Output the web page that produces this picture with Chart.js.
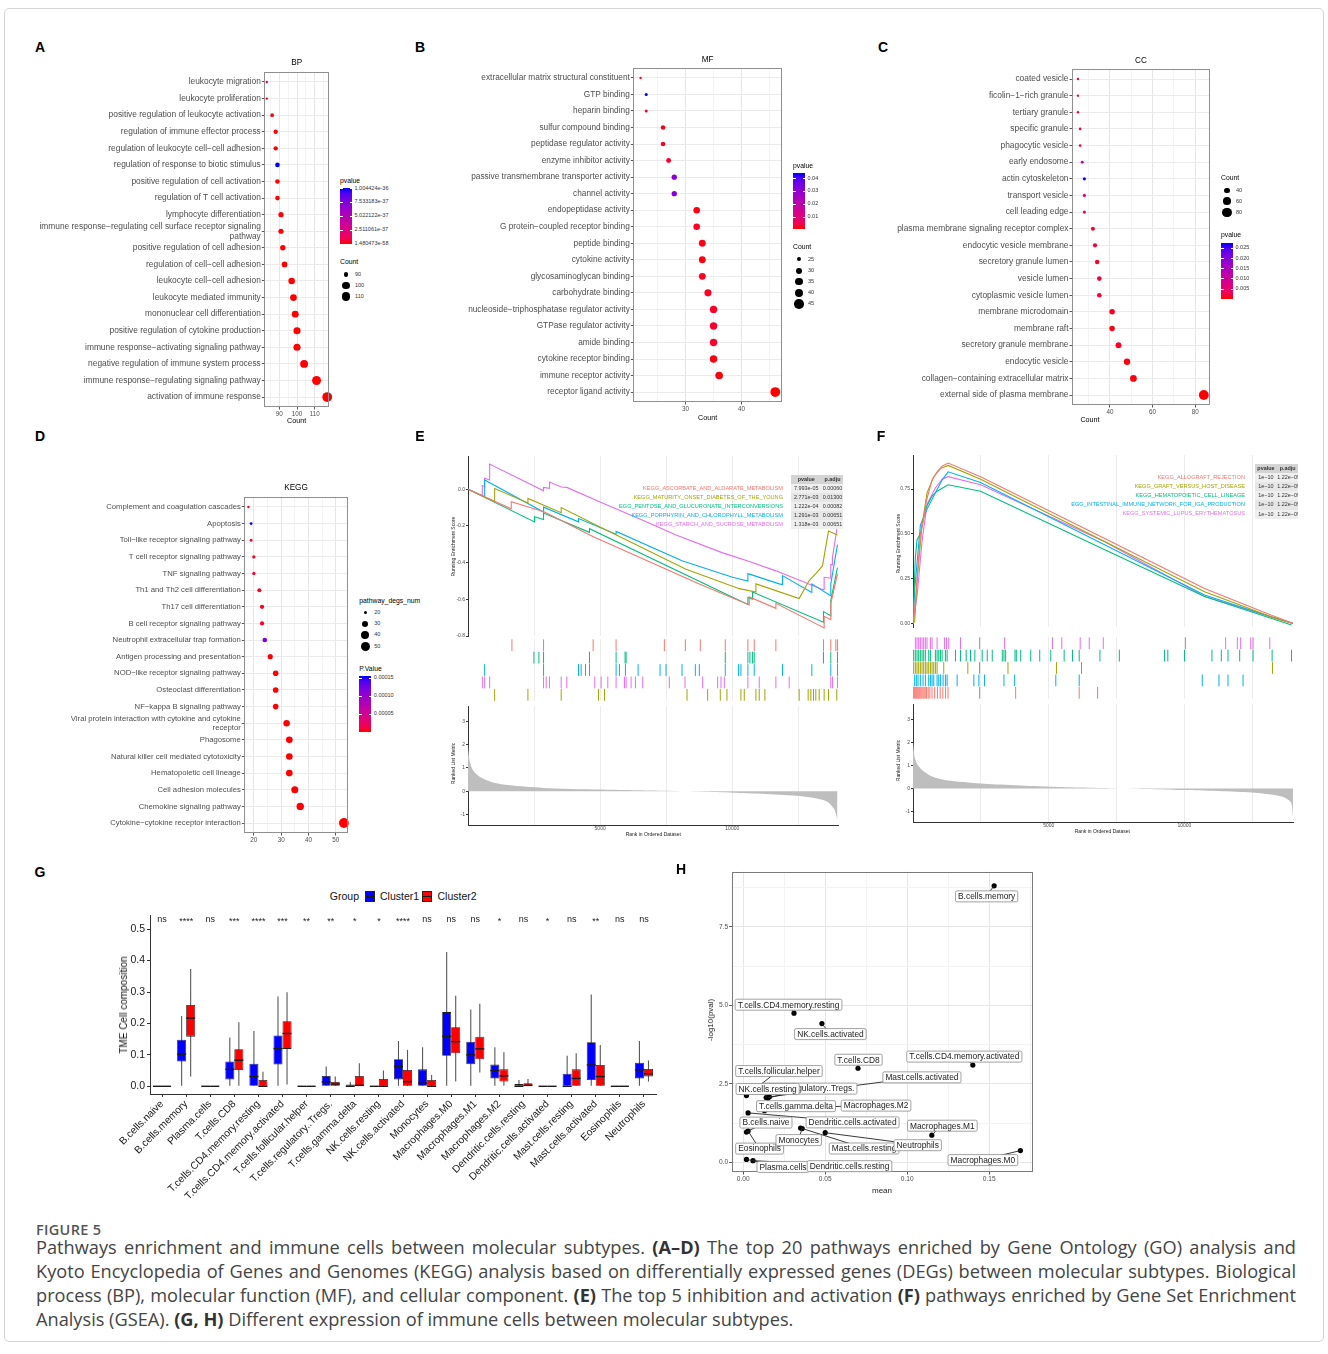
<!DOCTYPE html>
<html><head><meta charset="utf-8">
<script src="https://cdn.jsdelivr.net/npm/chart.js@4.4.1/dist/chart.umd.min.js"></script>
<style>
body{margin:0;background:#fff;}
#fig{position:relative;width:1328px;height:1354px;overflow:hidden;font-family:'Liberation Sans',Arial,sans-serif;}
#frame{position:absolute;left:4px;top:8px;width:1318px;height:1332px;border:1px solid #d4d4d4;border-radius:5px;}
canvas{position:absolute;}
.t{position:absolute;white-space:nowrap;line-height:1;}
#cap{position:absolute;left:36px;top:1220px;width:1260px;font-family:'Open Sans',sans-serif;color:#444;}
#cap .h{font-size:14.5px;font-weight:600;letter-spacing:.3px;color:#555;height:15px;}
#cap .l{font-size:18.2px;line-height:24px;white-space:nowrap;text-align:justify;text-align-last:justify;}
#cap .l.last{text-align-last:left;}
#cap b{font-weight:700;color:#333;}
</style></head><body><div id="fig"><div id="frame"></div>
<div id="cap"><div class="h">FIGURE 5</div>
<div class="l">Pathways enrichment and immune cells between molecular subtypes. <b>(A–D)</b> The top 20 pathways enriched by Gene Ontology (GO) analysis and</div>
<div class="l">Kyoto Encyclopedia of Genes and Genomes (KEGG) analysis based on differentially expressed genes (DEGs) between molecular subtypes. Biological</div>
<div class="l">process (BP), molecular function (MF), and cellular component. <b>(E)</b> The top 5 inhibition and activation <b>(F)</b> pathways enriched by Gene Set Enrichment</div>
<div class="l last">Analysis (GSEA). <b>(G, H)</b> Different expression of immune cells between molecular subtypes.</div>
</div></div>
<script>
// ---- A: BP ----
const bpTerms = ['leukocyte migration', 'leukocyte proliferation', 'positive regulation of leukocyte activation', 'regulation of immune effector process', 'regulation of leukocyte cell−cell adhesion', 'regulation of response to biotic stimulus', 'positive regulation of cell activation', 'regulation of T cell activation', 'lymphocyte differentiation', ['immune response−regulating cell surface receptor signaling', 'pathway'], 'positive regulation of cell adhesion', 'regulation of cell−cell adhesion', 'leukocyte cell−cell adhesion', 'leukocyte mediated immunity', 'mononuclear cell differentiation', 'positive regulation of cytokine production', 'immune response−activating signaling pathway', 'negative regulation of immune system process', 'immune response−regulating signaling pathway', 'activation of immune response'];
const bpCount = [83, 83, 86, 88, 88, 89, 89, 89, 91, 91, 92, 93, 97, 98, 99, 100, 100, 104, 111, 117];
const bpP = [2.1e-38, 5.5e-39, 3.2e-40, 1.1e-40, 4.0e-41, 1.004424e-36, 2.6e-42, 3.9e-42, 1.5e-43, 8.1e-44, 2.2e-44, 6.0e-45, 1.2e-47, 3.3e-48, 7.5e-50, 2.0e-50, 4.6e-51, 9.0e-53, 3.1e-55, 1.480473e-58];
const bpPLegend = [1.004424e-36, 7.533183e-37, 5.022122e-37, 2.511061e-37, 1.480473e-58];
const bpPLabels = ['1.004424e-36', '7.533183e-37', '5.022122e-37', '2.511061e-37', '1.480473e-58'];
const bpCountLegend = [90, 100, 110];

// ---- B: MF ----
const mfTerms = ['extracellular matrix structural constituent', 'GTP binding', 'heparin binding', 'sulfur compound binding', 'peptidase regulator activity', 'enzyme inhibitor activity', 'passive transmembrane transporter activity', 'channel activity', 'endopeptidase activity', 'G protein−coupled receptor binding', 'peptide binding', 'cytokine activity', 'glycosaminoglycan binding', 'carbohydrate binding', 'nucleoside−triphosphatase regulator activity', 'GTPase regulator activity', 'amide binding', 'cytokine receptor binding', 'immune receptor activity', 'receptor ligand activity'];
const mfCount = [22, 23, 23, 26, 26, 27, 28, 28, 32, 32, 33, 33, 33, 34, 35, 35, 35, 35, 36, 46];
const mfP = [0.0012, 0.0439, 0.0021, 0.0008, 0.0015, 0.0019, 0.031, 0.032, 0.0007, 0.0011, 0.0009, 0.0006, 0.0013, 0.0016, 0.0017, 0.0018, 0.0019, 0.0007, 0.0006, 0.0005];
const mfPLegend = [0.04, 0.03, 0.02, 0.01];
const mfCountLegend = [25, 30, 35, 40, 45];

// ---- C: CC ----
const ccTerms = ['coated vesicle', 'ficolin−1−rich granule', 'tertiary granule', 'specific granule', 'phagocytic vesicle', 'early endosome', 'actin cytoskeleton', 'transport vesicle', 'cell leading edge', 'plasma membrane signaling receptor complex', 'endocytic vesicle membrane', 'secretory granule lumen', 'vesicle lumen', 'cytoplasmic vesicle lumen', 'membrane microdomain', 'membrane raft', 'secretory granule membrane', 'endocytic vesicle', 'collagen−containing extracellular matrix', 'external side of plasma membrane'];
const ccCount = [25, 25, 25, 26, 26, 27, 28, 28, 28, 32, 33, 34, 35, 35, 41, 41, 44, 48, 51, 84];
const ccP = [0.0015, 0.0012, 0.0009, 0.0018, 0.0021, 0.0095, 0.0274, 0.0065, 0.0055, 0.0011, 0.0019, 0.0008, 0.0013, 0.0016, 0.0004, 0.0003, 0.0006, 0.0002, 0.0002, 0.0001];
const ccPLegend = [0.025, 0.020, 0.015, 0.010, 0.005];
const ccCountLegend = [40, 60, 80];

// ---- D: KEGG ----
const kgTerms = ['Complement and coagulation cascades', 'Apoptosis', 'Toll−like receptor signaling pathway', 'T cell receptor signaling pathway', 'TNF signaling pathway', 'Th1 and Th2 cell differentiation', 'Th17 cell differentiation', 'B cell receptor signaling pathway', 'Neutrophil extracellular trap formation', 'Antigen processing and presentation', 'NOD−like receptor signaling pathway', 'Osteoclast differentiation', 'NF−kappa B signaling pathway', ['Viral protein interaction with cytokine and cytokine', 'receptor'], 'Phagosome', 'Natural killer cell mediated cytotoxicity', 'Hematopoietic cell lineage', 'Cell adhesion molecules', 'Chemokine signaling pathway', 'Cytokine−cytokine receptor interaction'];
const kgCount = [18, 19, 19, 20, 20, 22, 23, 23, 24, 26, 28, 28, 28, 32, 33, 33, 33, 35, 37, 53];
const kgP = [1.2e-6, 1.556e-4, 5.0e-6, 3.1e-6, 4.4e-6, 2.0e-6, 1.5e-6, 4.2e-6, 1.2e-4, 1.0e-7, 2.0e-8, 5.0e-8, 1.0e-7, 3.0e-9, 2.0e-10, 5e-10, 1e-11, 4e-12, 1e-12, 1e-20];
const kgPLegend = [0.00015, 0.00010, 0.00005];
const kgCountLegend = [20, 30, 40, 50];

// ---- E / F: GSEA ----
const rankTicks = [2500, 5000, 7500, 10000, 12500];
const rankLabels = [5000, 10000];
const eNames = ['KEGG_ASCORBATE_AND_ALDARATE_METABOLISM', 'KEGG_MATURITY_ONSET_DIABETES_OF_THE_YOUNG', 'EGG_PENTOSE_AND_GLUCURONATE_INTERCONVERSIONS', 'KEGG_PORPHYRIN_AND_CHLOROPHYLL_METABOLISM', 'KEGG_STARCH_AND_SUCROSE_METABOLISM'];
const ePvalue = ['7.993e-05', '2.771e-03', '1.222e-04', '1.291e-03', '1.318e-03'];
const ePadj = ['0.00060', '0.01300', '0.00082', '0.00651', '0.00651'];
const eScoreTicks = [0, -0.2, -0.4, -0.6, -0.8];
const eRedX = [0, 1637, 1637, 2897, 4723, 8753, 10642, 10642, 11650, 11650, 13476, 13476, 13728, 13728, 13980];
const eRedY = [0, -0.107, -0.068, -0.124, -0.258, -0.516, -0.631, -0.587, -0.649, -0.622, -0.756, -0.693, -0.711, -0.622, -0.462];
const eOliveX = [0, 1008, 1008, 2267, 2267, 3526, 3526, 4975, 8249, 10264, 10894, 10894, 12531, 12909, 13161, 13413, 13640, 13980];
const eOliveY = [0, -0.068, 0.004, -0.075, -0.05, -0.128, -0.10, -0.204, -0.436, -0.542, -0.56, -0.516, -0.596, -0.498, -0.46, -0.418, -0.228, -0.249];
const eGreenX = [0, 2519, 2519, 2859, 2859, 4597, 4597, 9735, 10591, 10591, 10768, 10768, 13450, 13450, 13728, 13728, 13980];
const eGreenY = [0, -0.178, -0.15, -0.165, -0.13, -0.235, -0.215, -0.57, -0.628, -0.59, -0.6, -0.56, -0.725, -0.667, -0.69, -0.605, -0.427];
const eBlueX = [0, 630, 630, 2859, 2859, 4181, 4181, 5604, 5604, 8098, 10012, 10591, 10591, 11775, 11901, 11901, 12972, 13010, 13010, 13690, 13728, 13728, 13980];
const eBlueY = [0, -0.041, 0.05, -0.124, -0.098, -0.178, -0.16, -0.245, -0.23, -0.39, -0.48, -0.5, -0.46, -0.516, -0.52, -0.471, -0.56, -0.562, -0.516, -0.578, -0.58, -0.516, -0.302];
const eMagX = [0, 542, 542, 630, 630, 819, 819, 2859, 2859, 3085, 3085, 3526, 3740, 4975, 6612, 7872, 9634, 10591, 11650, 13413, 13476, 13476, 13728, 13728, 13790, 13790, 13980];
const eMagY = [0, -0.036, 0.02, 0.014, 0.06, 0.05, 0.137, -0.009, 0.01, 0.005, 0.039, 0.012, 0.01, -0.068, -0.169, -0.249, -0.347, -0.391, -0.445, -0.546, -0.547, -0.48, -0.485, -0.41, -0.412, -0.373, -0.196];
const eHitsRed = [1662, 2859, 4735, 5604, 7430, 8224, 8790, 9735, 10591, 10830, 11649, 13450, 13728, 13917, 13980];
const eHitsOlive = [1008, 2267, 3526, 4937, 5164, 8287, 9068, 9546, 9798, 10327, 10453, 10894, 11020, 11234, 12531, 12871, 12972, 13073, 13161, 13287, 13476, 13640, 13955];
const eHitsGreen = [2494, 2683, 2859, 4597, 5604, 5944, 5982, 9735, 10591, 10667, 10768, 10830, 13450, 13728, 13980];
const eHitsBlue = [630, 2859, 4181, 4282, 4446, 4597, 5604, 5730, 5957, 6436, 7267, 7493, 8098, 8602, 8753, 9735, 10239, 10327, 10591, 10830, 11901, 13010, 13728, 13980];
const eHitsMag = [542, 630, 819, 2859, 2960, 3085, 3526, 3740, 4798, 5038, 5290, 5604, 5919, 5982, 6171, 6335, 6612, 7619, 8211, 8879, 9446, 9572, 9698, 10591, 11020, 11650, 12153, 13728, 13790, 13980];
const eRankX = [0, 60, 190, 440, 950, 1570, 2830, 4980, 7490, 10010, 12530, 13540, 13850, 13980];
const eMetric = [2.0, 1.31, 0.9, 0.62, 0.37, 0.25, 0.14, 0.07, 0.014, -0.07, -0.21, -0.42, -0.76, -1.25];

const fNames = ['KEGG_ALLOGRAFT_REJECTION', 'KEGG_GRAFT_VERSUS_HOST_DISEASE', 'KEGG_HEMATOPOIETIC_CELL_LINEAGE', 'EGG_INTESTINAL_IMMUNE_NETWORK_FOR_IGA_PRODUCTION', 'KEGG_SYSTEMIC_LUPUS_ERYTHEMATOSUS'];
const fPvalue = ['1e−10', '1e−10', '1e−10', '1e−10', '1e−10'];
const fPadj = ['1.22e−09', '1.22e−09', '1.22e−09', '1.22e−09', '1.22e−09'];
const fScoreTicks = [0, 0.25, 0.5, 0.75];
const fRedX = [0, 62, 148, 271, 394, 493, 702, 887, 1072, 1294, 2489, 7047, 10743, 13207, 14000];
const fRedY = [0, 0.078, 0.24, 0.49, 0.584, 0.684, 0.80, 0.846, 0.877, 0.895, 0.819, 0.476, 0.195, 0.045, 0];
const fOliveX = [0, 62, 148, 333, 517, 764, 1010, 1294, 2489, 10743, 13269, 14000];
const fOliveY = [0, 0.01, 0.24, 0.548, 0.729, 0.819, 0.864, 0.882, 0.805, 0.177, 0.033, 0];
const fGreenX = [0, 86, 148, 271, 456, 702, 887, 1294, 2489, 7047, 10743, 13946];
const fGreenY = [0, 0.367, 0.466, 0.5, 0.638, 0.711, 0.738, 0.774, 0.738, 0.412, 0.15, -0.009];
const fBlueX = [0, 62, 271, 517, 825, 1072, 1294, 2489, 10743, 13207, 14000];
const fBlueY = [0, 0.186, 0.548, 0.638, 0.729, 0.80, 0.846, 0.787, 0.159, 0.036, 0];
const fMagX = [0, 148, 333, 517, 825, 1072, 1294, 2489, 7047, 10743, 14000];
const fMagY = [0, 0.15, 0.457, 0.665, 0.756, 0.805, 0.819, 0.774, 0.457, 0.15, 0];
const fHitsRed = [25, 62, 100, 137, 175, 212, 250, 290, 330, 370, 410, 450, 500, 560, 620, 700, 800, 900, 1000, 1100, 1200, 1290, 2452, 3782, 6123, 6801];
const fHitsOlive = [25, 86, 148, 209, 271, 333, 394, 456, 517, 579, 641, 702, 764, 825, 887, 1133, 2020, 2452, 3499, 5285, 6209, 13244];
const fHitsGreen = [25, 86, 148, 209, 271, 333, 394, 456, 579, 641, 825, 887, 949, 1010, 1072, 1195, 1257, 1565, 1749, 1959, 2119, 2279, 2550, 2735, 2920, 3290, 3351, 3413, 3758, 3807, 3967, 4337, 4669, 5076, 5569, 5877, 6123, 6887, 7602, 9265, 9388, 10004, 11014, 11359, 11605, 12036, 12529, 13231, 13946];
const fHitsBlue = [62, 123, 185, 271, 370, 456, 579, 641, 702, 764, 887, 949, 1010, 1109, 1195, 1257, 1626, 2242, 2427, 2636, 3351, 3745, 5261, 6123, 10657, 11273, 11605, 12160];
const fHitsMag = [86, 148, 209, 271, 333, 394, 456, 517, 641, 702, 887, 1158, 1232, 1318, 1749, 2452, 3376, 5137, 5482, 6160, 6493, 7010, 10041, 11519, 11950, 12073, 12443, 12529, 13145];
const fRankX = [0, 62, 148, 333, 702, 1257, 2489, 5076, 7540, 10004, 12468, 13577, 13922, 14000];
const fMetric = [2.05, 1.35, 1.07, 0.8, 0.52, 0.35, 0.21, 0.07, 0, -0.07, -0.18, -0.35, -0.6, -1.23];

// ---- G: immune cell boxplots ----
const cells = ['B.cells.naive', 'B.cells.memory', 'Plasma.cells', 'T.cells.CD8', 'T.cells.CD4.memory.resting', 'T.cells.CD4.memory.activated', 'T.cells.follicular.helper', 'T.cells.regulatory..Tregs.', 'T.cells.gamma.delta', 'NK.cells.resting', 'NK.cells.activated', 'Monocytes', 'Macrophages.M0', 'Macrophages.M1', 'Macrophages.M2', 'Dendritic.cells.resting', 'Dendritic.cells.activated', 'Mast.cells.resting', 'Mast.cells.activated', 'Eosinophils', 'Neutrophils'];
const sig = ['ns', '****', 'ns', '***', '****', '***', '**', '**', '*', '*', '****', 'ns', 'ns', 'ns', '*', 'ns', '*', 'ns', '**', 'ns', 'ns'];
const c1Min = [0, 0, 0, 0, 0, 0, 0, 0, 0, 0, 0, 0, 0, 0, 0, 0, 0, 0, 0, 0, 0];
const c1Q1 = [0, 0.079, 0, 0.022, 0, 0.069, 0, 0, 0, 0, 0.022, 0, 0.097, 0.070, 0.025, 0, 0, 0, 0.020, 0, 0.025];
const c1Med = [0, 0.102, 0, 0.054, 0.031, 0.120, 0, 0.014, 0, 0, 0.063, 0.010, 0.159, 0.100, 0.050, 0, 0, 0, 0.068, 0, 0.052];
const c1Q3 = [0, 0.148, 0, 0.079, 0.072, 0.162, 0, 0.033, 0.006, 0, 0.086, 0.054, 0.236, 0.142, 0.069, 0.007, 0, 0.040, 0.140, 0, 0.075];
const c1Max = [0, 0.224, 0, 0.155, 0.176, 0.286, 0, 0.063, 0.014, 0, 0.144, 0.124, 0.427, 0.244, 0.124, 0.020, 0, 0.097, 0.292, 0, 0.144];
const c2Min = [0, 0.031, 0, 0, 0, 0.006, 0, 0, 0, 0, 0, 0, 0.015, 0.044, 0, 0, 0, 0, 0, 0, 0.015];
const c2Q1 = [0, 0.158, 0, 0.052, 0, 0.119, 0, 0, 0, 0, 0, 0, 0.105, 0.086, 0.015, 0, 0, 0, 0, 0, 0.031];
const c2Med = [0, 0.217, 0, 0.083, 0, 0.168, 0, 0.007, 0.003, 0, 0.015, 0, 0.142, 0.119, 0.033, 0.003, 0, 0.025, 0.031, 0, 0.040];
const c2Q3 = [0, 0.259, 0, 0.118, 0.020, 0.207, 0, 0.014, 0.033, 0.023, 0.052, 0.020, 0.188, 0.158, 0.054, 0.010, 0, 0.054, 0.068, 0, 0.055];
const c2Max = [0, 0.373, 0, 0.204, 0.046, 0.299, 0, 0.031, 0.073, 0.050, 0.116, 0.036, 0.288, 0.263, 0.108, 0.023, 0, 0.105, 0.131, 0, 0.082];
const gTicks = [0, 0.1, 0.2, 0.3, 0.4, 0.5];

// ---- H: mean vs -log10(p) ----
const hNames = ['B.cells.memory', 'T.cells.CD4.memory.resting', 'NK.cells.activated', 'T.cells.CD8', 'T.cells.CD4.memory.activated', 'Mast.cells.activated', 'T.cells.regulatory..Tregs.', 'T.cells.follicular.helper', 'NK.cells.resting', 'T.cells.gamma.delta', 'Macrophages.M2', 'Dendritic.cells.activated', 'B.cells.naive', 'Eosinophils', 'Monocytes', 'Mast.cells.resting', 'Neutrophils', 'Macrophages.M1', 'Macrophages.M0', 'Plasma.cells', 'Dendritic.cells.resting'];
const hMean = [0.153, 0.031, 0.048, 0.070, 0.140, 0.016, 0.015, 0.002, 0.014, 0.013, 0.013, 0.003, 0.002, 0.003, 0.036, 0.035, 0.050, 0.115, 0.169, 0.002, 0.006];
const hLogP = [8.80, 4.75, 4.42, 3.00, 3.10, 2.09, 2.05, 2.13, 2.07, 1.65, 1.70, 1.58, 0.97, 1.00, 1.08, 1.10, 0.95, 0.87, 0.38, 0.10, 0.06];
const hXTicks = [0, 0.025, 0.05, 0.075, 0.1, 0.125, 0.15, 0.175];
const hXMajor = [0, 0.05, 0.1, 0.15];
const hYTicks = [0, 1.25, 2.5, 3.75, 5, 6.25, 7.5, 8.75];
const hYMajor = [0, 2.5, 5, 7.5];
// label placement (pixel offset of each label from its point)
const hLabelOff = [[-8, 10], [-6, -9], [8, 10], [0, -9], [-9, -9], [152, -20], [41, -10], [32, -25], [1, -9], [31, -5], [111, -4], [104, 9], [19, -10], [11, 17], [-4, 11], [63, 20], [92, 12], [10, -10], [-38, 9], [36, 7], [96, 5]];

// ===================== helpers =====================
Chart.defaults.font.family = "'Liberation Sans', Arial, sans-serif";
const fig = document.getElementById('fig');
const W = 1328;
const HUE = ['#F8766D', '#A3A500', '#00BF7D', '#00B0F6', '#E76BF3'];

function txt(s, x, y, o = {}) {
  const d = document.createElement('div');
  const fs = o.fs || 7;
  d.className = 't';
  d.textContent = s;
  d.style.fontSize = fs + 'px';
  d.style.color = o.c || '#000';
  if (o.b) d.style.fontWeight = 'bold';
  d.style.top = (y - fs / 2) + 'px';
  if (o.a === 'r') d.style.right = (W - x) + 'px'; else d.style.left = x + 'px';
  if (o.a === 'c') d.style.transform = 'translateX(-50%)';
  if (o.rot) d.style.transform = 'translateX(-50%) rotate(-90deg)';
  fig.appendChild(d);
  return d;
}
function box(x, y, w, h, css) {
  const d = document.createElement('div');
  d.style.cssText = `position:absolute;left:${x}px;top:${y}px;width:${w}px;height:${h}px;${css}`;
  fig.appendChild(d);
  return d;
}
function canvasAt(l, t, w, h) {
  const c = document.createElement('canvas');
  c.width = Math.round(w); c.height = Math.round(h);
  c.style.left = l + 'px'; c.style.top = t + 'px';
  fig.appendChild(c);
  return c;
}
const sizeR = (c, lo, hi) => Math.sqrt(1.4 + (c - lo) / (hi - lo) * 22.6);
function pColor(p, lo, hi) {
  const t = Math.max(0, Math.min(1, (p - lo) / (hi - lo)));
  return `rgb(${Math.round(255 * Math.sqrt(1 - t))},0,${Math.round(255 * Math.sqrt(t))})`;
}
const framePlugin = {
  id: 'frame',
  afterDatasetsDraw(ch, a, o) {
    if (!o.color) return;
    const { left, top, width, height } = ch.chartArea, x = ch.ctx;
    x.save(); x.strokeStyle = o.color; x.lineWidth = 1;
    x.strokeRect(Math.round(left) + .5, Math.round(top) + .5, Math.round(width) - 1, Math.round(height) - 1);
    x.restore();
  }
};
Chart.register(framePlugin);
const common = { responsive: false, animation: false, devicePixelRatio: 1, events: [] };

// ===================== A–D dot plots =====================
function dotPanel(d) {
  const [pl, pt, pr, pb] = d.plot;
  const left = 4;
  const cv = canvasAt(left, pt - 6, pr - left + 8, pb - pt + 6 + 14);
  const lo = Math.min(...d.counts), hi = Math.max(...d.counts);
  new Chart(cv, {
    type: 'scatter',
    data: { datasets: [{
      data: d.counts.map((c, i) => ({ x: c, y: i })),
      pointRadius: ctx => sizeR(d.counts[ctx.dataIndex], lo, hi),
      pointBackgroundColor: ctx => pColor(d.pvals[ctx.dataIndex], d.pRange[0], d.pRange[1]),
      pointBorderWidth: 0, clip: false }] },
    options: { ...common,
      layout: { autoPadding: false, padding: { top: 6, right: 8, left: 0, bottom: 0 } },
      plugins: { legend: { display: false }, tooltip: { enabled: false }, frame: { color: '#8f8f8f' } },
      scales: {
        x: { type: 'linear', min: d.xmin, max: d.xmax,
          afterBuildTicks: s => { s.ticks = d.ticks.map(v => ({ value: v })); },
          afterFit: s => { s.height = 14; },
          ticks: { autoSkip: false, maxRotation: 0, padding: 1, font: { size: 6.3 }, color: '#4d4d4d', callback: v => d.major.includes(v) ? String(v) : '' },
          grid: { color: c => d.major.includes(c.tick.value) ? '#e6e6e6' : '#f3f3f3', tickColor: c => d.major.includes(c.tick.value) ? '#555' : 'rgba(0,0,0,0)', tickLength: 2.5 },
          border: { display: false } },
        y: { type: 'linear', reverse: true, min: -0.6, max: d.terms.length - 0.4,
          afterBuildTicks: s => { s.ticks = d.terms.map((t, i) => ({ value: i })); },
          afterFit: s => { s.width = pl - left; },
          ticks: { autoSkip: false, padding: 1, font: { size: d.fs }, color: '#4d4d4d', callback: v => d.terms[v] },
          grid: { color: '#ebebeb', tickColor: '#555', tickLength: 2.5 },
          border: { display: false } } } }
  });
  return [lo, hi];
}
function pLegend(title, x, ty, barTop, barBot, vals, labels, pr) {
  txt(title, x, ty, { fs: 6.8 });
  const stops = [];
  for (let k = 0; k <= 10; k++) stops.push(pColor(pr[1] - (pr[1] - pr[0]) * k / 10, pr[0], pr[1]));
  box(x, barTop, 12, barBot - barTop, `background:linear-gradient(to bottom,${stops.join(',')});`);
  vals.forEach((v, i) => {
    const y = barBot - (v - pr[0]) / (pr[1] - pr[0]) * (barBot - barTop);
    box(x, y - 0.5, 2.5, 1, 'background:#fff;');
    box(x + 9.5, y - 0.5, 2.5, 1, 'background:#fff;');
    txt(labels[i], x + 14.5, y, { fs: 5.5, c: '#333' });
  });
}
function cLegend(title, x, ty, ys, vals, lo, hi) {
  txt(title, x, ty, { fs: 6.8 });
  vals.forEach((v, i) => {
    const r = sizeR(v, lo, hi);
    box(x + 6 - r, ys[i] - r, 2 * r, 2 * r, 'background:#000;border-radius:50%;');
    txt(String(v), x + 15, ys[i], { fs: 5.5, c: '#333' });
  });
}

let r;
// A
txt('A', 40, 47, { fs: 14, b: 1, a: 'c' });
r = dotPanel({ terms: bpTerms, counts: bpCount, pvals: bpP, pRange: [1.480473e-58, 1.004424e-36], plot: [264.3, 71.7, 329.3, 406.7], xmin: 81.6, xmax: 118, ticks: [85, 90, 95, 100, 105, 110, 115], major: [90, 100, 110], fs: 8.4 });
txt('BP', 296.7, 63, { fs: 8.2, a: 'c' });
txt('Count', 296.7, 421, { fs: 7.2, a: 'c' });
pLegend('pvalue', 340, 181, 188.3, 244, bpPLegend, bpPLabels, [1.480473e-58, 1.004424e-36]);
cLegend('Count', 340, 262, [274.3, 285.7, 296.7], bpCountLegend, r[0], r[1]);
// B
txt('B', 420, 47, { fs: 14, b: 1, a: 'c' });
r = dotPanel({ terms: mfTerms, counts: mfCount, pvals: mfP, pRange: [0.0005, 0.0439], plot: [633.3, 68.3, 781.7, 402.7], xmin: 20.7, xmax: 47.2, ticks: [25, 30, 35, 40, 45], major: [30, 40], fs: 8.3 });
txt('MF', 707.7, 59.7, { fs: 8.2, a: 'c' });
txt('Count', 707.7, 417.3, { fs: 7.2, a: 'c' });
pLegend('pvalue', 793, 166, 173.3, 229.3, mfPLegend, mfPLegend.map(v => v.toFixed(2)), [0.0005, 0.0439]);
cLegend('Count', 793, 247.3, [259.3, 270.7, 281.7, 293, 304], mfCountLegend, r[0], r[1]);
// C
txt('C', 883, 47, { fs: 14, b: 1, a: 'c' });
r = dotPanel({ terms: ccTerms, counts: ccCount, pvals: ccP, pRange: [0.0001, 0.0274], plot: [1072, 69.3, 1210, 405], xmin: 22.2, xmax: 86.9, ticks: [30, 40, 50, 60, 70, 80], major: [40, 60, 80], fs: 8.4 });
txt('CC', 1141, 61, { fs: 8.2, a: 'c' });
txt('Count', 1090, 419.3, { fs: 7.2, a: 'c' });
cLegend('Count', 1221, 178, [190.3, 201.3, 212.3], ccCountLegend, r[0], r[1]);
pLegend('pvalue', 1221, 235.7, 243.3, 299.3, ccPLegend, ccPLegend.map(v => v.toFixed(3)), [0.0001, 0.0274]);
// D
txt('D', 40, 436, { fs: 14, b: 1, a: 'c' });
r = dotPanel({ terms: kgTerms, counts: kgCount, pvals: kgP, pRange: [0, 1.556e-4], plot: [244.3, 496.5, 348.3, 832.7], xmin: 16.5, xmax: 54.5, ticks: [20, 25, 30, 35, 40, 45, 50], major: [20, 30, 40, 50], fs: 7.7 });
txt('KEGG', 296, 488.3, { fs: 8.2, a: 'c' });
cLegend('pathway_degs_num', 359.3, 601, [612.7, 623.7, 635, 646.3], kgCountLegend, r[0], r[1]);
pLegend('P.Value', 359.3, 669.3, 676, 732, kgPLegend, kgPLegend.map(v => v.toFixed(5)), [0, 1.556e-4]);

// ===================== E / F GSEA =====================
function gsea(g) {
  const L = g.x0 - 24, Wd = g.x1 - L + 4;
  const xScale = labels => ({ type: 'linear', min: 0, max: 14000,
    afterBuildTicks: s => { s.ticks = rankTicks.map(v => ({ value: v })); },
    afterFit: s => { s.height = labels ? 9 : 0; },
    ticks: { display: labels, font: { size: 5 }, color: '#4d4d4d', padding: 1, maxRotation: 0, autoSkip: false, callback: v => rankLabels.includes(v) ? String(v) : '' },
    grid: { color: '#ebebeb', drawTicks: false },
    border: { display: labels, color: '#333', width: 1 } });
  const yAxis = (min, max, ticks, fmt) => ({ type: 'linear', min, max,
    afterBuildTicks: s => { s.ticks = ticks.map(v => ({ value: v })); },
    afterFit: s => { s.width = 24; },
    ticks: { font: { size: 5 }, color: '#4d4d4d', padding: 1, callback: fmt },
    grid: { drawOnChartArea: false, tickLength: 2, tickColor: '#333' },
    border: { color: '#333', width: 1 } });
  const noUi = { legend: { display: false }, tooltip: { enabled: false } };
  // running enrichment score
  new Chart(canvasAt(L, g.top[0] - 2, Wd, g.top[1] - g.top[0] + 4), {
    type: 'line',
    data: { datasets: g.series.map((s, k) => ({ data: s.x.map((v, i) => ({ x: v, y: s.y[i] })), borderColor: HUE[k], borderWidth: 1.1, pointRadius: 0, tension: 0 })) },
    options: { ...common, layout: { autoPadding: false, padding: { top: 2, right: 4, bottom: 2, left: 0 } }, plugins: noUi,
      scales: { x: xScale(false), y: yAxis(g.ymin, g.ymax, g.yticks, g.fmt) } }
  });
  // hit rug
  new Chart(canvasAt(L, g.rug[0], Wd, g.rug[1] - g.rug[0]), {
    type: 'scatter',
    data: { datasets: g.series.map((s, k) => ({ data: s.hits.map(v => ({ x: v, y: 4.5 - g.rows[k] })), pointStyle: 'line', rotation: 90, pointRadius: (g.rug[1] - g.rug[0]) / 10 - 0.3, pointBorderColor: HUE[k], pointBorderWidth: 1 })) },
    options: { ...common, layout: { autoPadding: false, padding: { top: 0, right: 4, bottom: 0, left: 24 } }, plugins: noUi,
      scales: { x: xScale(false), y: { display: false, min: 0, max: 5 } } }
  });
  // ranked list metric
  new Chart(canvasAt(L, g.bot[0], Wd, g.bot[1] - g.bot[0] + 9), {
    type: 'line',
    data: { datasets: [{ data: g.rankX.map((v, i) => ({ x: v, y: g.metric[i] })), fill: 'origin', backgroundColor: '#bebebe', borderWidth: 0, pointRadius: 0, tension: 0.25 }] },
    options: { ...common, layout: { autoPadding: false, padding: { top: 0, right: 4, bottom: 0, left: 0 } }, plugins: noUi,
      scales: { x: xScale(true), y: yAxis(-1.46, 3.67, [3, 2, 1, 0, -1], v => String(v)) } }
  });
  txt('Running Enrichment Score', g.ytitleX, g.ytitle1, { fs: 5, rot: 1, c: '#222' });
  txt('Ranked List Metric', g.ytitleX, g.ytitle2, { fs: 5, rot: 1, c: '#222' });
  txt('Rank in Ordered Dataset', g.xtitle[0], g.xtitle[1], { fs: 5, a: 'c', c: '#222' });
}
function gseaLegend(names, pv, padj, rx, ys, hy, c1, c2, c3) {
  names.forEach((n, i) => txt(n, rx, ys[i], { fs: 5.6, c: HUE[i], a: 'r' }));
  const rh = ys[1] - ys[0];
  const cell = (x, y, w, s, bg, bold) => {
    const d = box(x, y - rh / 2, w, rh, `background:${bg};font-size:5.4px;line-height:${rh}px;color:#333;overflow:hidden;white-space:nowrap;text-align:center;${bold ? 'font-weight:bold;' : ''}`);
    d.textContent = s;
  };
  cell(c1, hy, c2 - c1 - 0.5, 'pvalue', '#d4d4d4', 1);
  cell(c2, hy, c3 - c2, 'p.adju', '#d4d4d4', 1);
  ys.forEach((y, i) => {
    const bg = i % 2 ? '#e6e6e6' : '#efefef';
    cell(c1, y, c2 - c1 - 0.5, pv[i], bg);
    cell(c2, y, c3 - c2, padj[i], bg);
  });
}
txt('E', 420, 436, { fs: 14, b: 1, a: 'c' });
gsea({ x0: 468.3, x1: 838.3, top: [454.3, 638.3], rug: [639, 701], bot: [701.7, 825], ymin: -0.8, ymax: 0.181, yticks: eScoreTicks, fmt: v => v.toFixed(1),
  series: [{ x: eRedX, y: eRedY, hits: eHitsRed }, { x: eOliveX, y: eOliveY, hits: eHitsOlive }, { x: eGreenX, y: eGreenY, hits: eHitsGreen }, { x: eBlueX, y: eBlueY, hits: eHitsBlue }, { x: eMagX, y: eMagY, hits: eHitsMag }],
  rows: [0, 4, 1, 2, 3], rankX: eRankX, metric: eMetric, ytitleX: 453.3, ytitle1: 546.7, ytitle2: 763, xtitle: [653.3, 834.3] });
gseaLegend(eNames, ePvalue, ePadj, 783, [488.3, 497.5, 506.6, 515.7, 524.9], 479.2, 791, 822, 843);

txt('F', 881, 436, { fs: 14, b: 1, a: 'c' });
gsea({ x0: 912.7, x1: 1292.7, top: [453.3, 629.5], rug: [637, 699], bot: [700, 822], ymin: -0.02, ymax: 0.94, yticks: fScoreTicks, fmt: v => v.toFixed(2),
  series: [{ x: fRedX, y: fRedY, hits: fHitsRed }, { x: fOliveX, y: fOliveY, hits: fHitsOlive }, { x: fGreenX, y: fGreenY, hits: fHitsGreen }, { x: fBlueX, y: fBlueY, hits: fHitsBlue }, { x: fMagX, y: fMagY, hits: fHitsMag }],
  rows: [4, 2, 1, 3, 0], rankX: fRankX, metric: fMetric, ytitleX: 898.3, ytitle1: 543, ytitle2: 760, xtitle: [1102.3, 831.7] });
gseaLegend(fNames, fPvalue, fPadj, 1245, [477.7, 486.8, 495.9, 505, 514.1], 468.6, 1255, 1277.3, 1298);

// ===================== G boxplots =====================
txt('G', 40, 872, { fs: 14, b: 1, a: 'c' });
const boxExtras = {
  id: 'boxExtras',
  afterDatasetsDraw(ch, a, o) {
    const ctx = ch.ctx, y = ch.scales.y, x = ch.scales.x;
    ctx.save(); ctx.strokeStyle = '#1a1a1a'; ctx.lineWidth = 1.4;
    o.medians.forEach((meds, d) => {
      ch.getDatasetMeta(d).data.forEach((el, i) => {
        const py = y.getPixelForValue(meds[i]);
        ctx.beginPath(); ctx.moveTo(el.x - el.width / 2, py); ctx.lineTo(el.x + el.width / 2, py); ctx.stroke();
      });
    });
    ctx.fillStyle = '#222'; ctx.font = "9px 'Liberation Sans', Arial"; ctx.textAlign = 'center'; ctx.textBaseline = 'middle';
    o.sig.forEach((s, i) => ctx.fillText(s, x.getPixelForValue(i), y.getPixelForValue(o.sigAt) + (s === 'ns' ? 0 : 1.5)));
    ctx.restore();
  }
};
const boxSet = (label, lo, hi, color, stack) => ({ label, data: cells.map((c, i) => [lo[i], hi[i]]), backgroundColor: color, borderColor: '#222', borderWidth: 0.8, borderSkipped: false, stack, categoryPercentage: 0.75, barPercentage: 1 });
const whiskerSet = (lo, hi, stack) => ({ data: cells.map((c, i) => [lo[i], hi[i]]), backgroundColor: '#555', borderWidth: 0, stack, categoryPercentage: 0.75, barPercentage: 0.12 });
new Chart(canvasAt(60, 905, 610, 295), {
  type: 'bar',
  data: { labels: cells, datasets: [boxSet('Cluster1', c1Q1, c1Q3, '#0000ff', 'c1'), boxSet('Cluster2', c2Q1, c2Q3, '#ff0000', 'c2'), whiskerSet(c1Min, c1Max, 'c1'), whiskerSet(c2Min, c2Max, 'c2')] },
  options: { ...common, layout: { autoPadding: false, padding: { top: 10, right: 14, left: 0, bottom: 0 } },
    plugins: { legend: { display: false }, tooltip: { enabled: false }, boxExtras: { medians: [c1Med, c2Med], sig, sigAt: 0.53 } },
    scales: {
      x: { afterFit: s => { s.height = 106; },
        ticks: { autoSkip: false, minRotation: 45, maxRotation: 45, padding: 1, font: { size: 10.3 }, color: '#1a1a1a' },
        grid: { offset: false, drawOnChartArea: false, tickLength: 3, tickColor: '#333' },
        border: { color: '#333', width: 1 } },
      y: { stacked: false, min: -0.0245, max: 0.545,
        afterBuildTicks: s => { s.ticks = gTicks.map(v => ({ value: v })); },
        afterFit: s => { s.width = 90; },
        ticks: { font: { size: 10.5 }, color: '#1a1a1a', padding: 2, callback: v => v.toFixed(1) },
        grid: { drawOnChartArea: false, tickLength: 3, tickColor: '#333' },
        border: { color: '#333', width: 1 } } } },
  plugins: [boxExtras]
});
txt('TME Cell composition', 124, 1005, { fs: 10, rot: 1, c: '#111' });
txt('Group', 359, 896, { fs: 10.5, a: 'r', c: '#111' });
[['#0000ff', 364.5, 'Cluster1'], ['#ff0000', 422, 'Cluster2']].forEach(([col, x, lab]) => {
  box(x, 890.5, 10, 11, `background:${col};border:0.8px solid #222;box-sizing:border-box;`);
  box(x, 895.5, 10, 1.3, 'background:#1a1a1a;');
  txt(lab, x + 15.5, 896, { fs: 10.5, c: '#111' });
});

// ===================== H scatter =====================
txt('H', 681, 869, { fs: 14, b: 1, a: 'c' });
const repel = {
  id: 'repel',
  afterDatasetsDraw(ch) {
    const ctx = ch.ctx, pts = ch.getDatasetMeta(0).data;
    ctx.save();
    ctx.font = "8.4px 'Liberation Sans', Arial";
    const boxes = hNames.map((n, i) => {
      const w = ctx.measureText(n).width + 5, h = 11;
      const cx = pts[i].x + hLabelOff[i][0], cy = pts[i].y + hLabelOff[i][1];
      return { n, x: cx - w / 2, y: cy - h / 2, w, h, cx, cy, px: pts[i].x, py: pts[i].y };
    });
    ctx.strokeStyle = '#222'; ctx.lineWidth = 0.9;
    boxes.forEach(b => {
      const inside = b.px > b.x - 2 && b.px < b.x + b.w + 2 && b.py > b.y - 2 && b.py < b.y + b.h + 2;
      if (!inside) { ctx.beginPath(); ctx.moveTo(b.px, b.py); ctx.lineTo(b.cx, b.cy); ctx.stroke(); }
    });
    ctx.textBaseline = 'middle'; ctx.textAlign = 'center';
    boxes.forEach(b => {
      ctx.beginPath(); ctx.roundRect(b.x + .5, b.y + .5, b.w, b.h, 1.5);
      ctx.fillStyle = '#fff'; ctx.fill(); ctx.strokeStyle = '#8a8a8a'; ctx.lineWidth = 0.8; ctx.stroke();
      ctx.fillStyle = '#1a1a1a'; ctx.fillText(b.n, b.cx + .5, b.cy + 1);
    });
    ctx.restore();
  }
};
new Chart(canvasAt(690, 862, 352, 328), {
  type: 'scatter',
  data: { datasets: [{ data: hNames.map((n, i) => ({ x: hMean[i], y: hLogP[i] })), pointRadius: 2.6, pointBackgroundColor: '#000', pointBorderWidth: 0, clip: false }] },
  options: { ...common, layout: { autoPadding: false, padding: { top: 9.7, right: 9.3, left: 0, bottom: 0 } },
    plugins: { legend: { display: false }, tooltip: { enabled: false }, frame: { color: '#7a7a7a' } },
    scales: {
      x: { type: 'linear', min: -0.007, max: 0.1765,
        afterBuildTicks: s => { s.ticks = hXTicks.map(v => ({ value: v })); },
        afterFit: s => { s.height = 18; },
        ticks: { autoSkip: false, maxRotation: 0, padding: 1, font: { size: 6.6 }, color: '#4d4d4d', callback: v => hXMajor.includes(v) ? v.toFixed(2) : '' },
        grid: { color: c => hXMajor.includes(c.tick.value) ? '#e6e6e6' : '#f3f3f3', tickColor: c => hXMajor.includes(c.tick.value) ? '#555' : 'rgba(0,0,0,0)', tickLength: 2.5 },
        border: { display: false } },
      y: { type: 'linear', min: -0.3, max: 9.25,
        afterBuildTicks: s => { s.ticks = hYTicks.map(v => ({ value: v })); },
        afterFit: s => { s.width = 41.7; },
        ticks: { padding: 1, font: { size: 6.6 }, color: '#4d4d4d', callback: v => hYMajor.includes(v) ? v.toFixed(1) : '' },
        grid: { color: c => hYMajor.includes(c.tick.value) ? '#e6e6e6' : '#f3f3f3', tickColor: c => hYMajor.includes(c.tick.value) ? '#555' : 'rgba(0,0,0,0)', tickLength: 2.5 },
        border: { display: false } } } },
  plugins: [repel]
});
txt('mean', 882, 1191, { fs: 8, a: 'c', c: '#222' });
txt('-log10(pval)', 711, 1020, { fs: 8, rot: 1, c: '#222' });
</script></body></html>
